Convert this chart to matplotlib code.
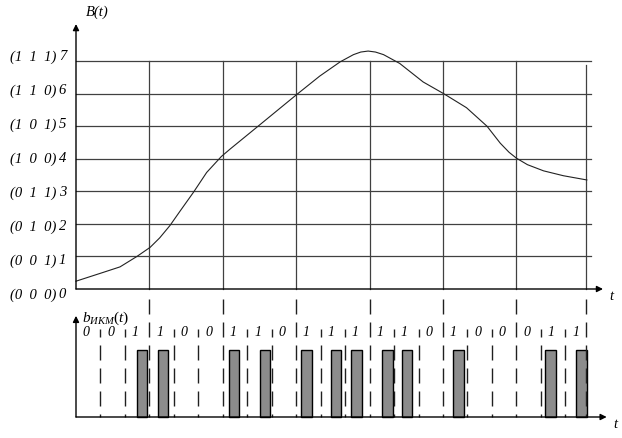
import matplotlib.pyplot as plt

# analog signal B(t) (t in sampling steps)
curve_t = [0.00, 0.37, 0.60, 0.83, 1.01, 1.14, 1.28, 1.42, 1.60, 1.78, 1.98, 2.10,
           2.48, 3.01, 3.32, 3.60, 3.78, 3.88, 3.98, 4.08, 4.19, 4.41, 4.73, 5.01,
           5.32, 5.60, 5.78, 5.90, 6.00, 6.15, 6.37, 6.64, 6.96]
curve_v = [0.24, 0.51, 0.68, 1.00, 1.28, 1.57, 1.95, 2.40, 2.97, 3.58, 4.07, 4.30,
           5.00, 5.98, 6.54, 6.98, 7.20, 7.28, 7.31, 7.28, 7.20, 6.93, 6.36, 6.00,
           5.57, 5.00, 4.48, 4.20, 4.02, 3.82, 3.63, 3.48, 3.35]

levels = [0, 1, 2, 3, 4, 5, 6, 7]
codes = ["(0  0  0)", "(0  0  1)", "(0  1  0)", "(0  1  1)",
         "(1  0  0)", "(1  0  1)", "(1  1  0)", "(1  1  1)"]

# PCM bit stream, 3 bits per sample
bits = "001100110111110100011"
# where each pulse starts inside its bit slot (fraction of slot)
pulse_offset = [0.49, 0.35, 0.25, 0.52, 0.20, 0.42, 0.24, 0.51, 0.32, 0.41, 0.17, 0.44]

T_END = 6.95
SLOT = 1 / 3
FONT = "Liberation Serif"


def main():
    plt.rcParams["mathtext.fontset"] = "custom"
    plt.rcParams["mathtext.it"] = FONT + ":italic"
    plt.rcParams["mathtext.rm"] = FONT

    fig = plt.figure(figsize=(6.22, 4.39), dpi=100)
    px = 73.4  # px per sample step
    ax1 = fig.add_axes([0, 139 / 439, 1, 300 / 439])
    ax1.set_xlim(-76 / px, 546 / px)
    ax1.set_ylim(-10 / 32.55, 290 / 32.55)
    ax1.axis("off")

    ax2 = fig.add_axes([0, 0, 1, 139 / 439])
    ax2.set_xlim(-76 / px, 546 / px)
    ax2.set_ylim(-21 / 67, 118 / 67)
    ax2.axis("off")

    grid_c = "#404040"
    # grid of the top plot
    for v in levels[1:]:
        ax1.plot([0, 7.016], [v, v], color=grid_c, lw=0.9)
    for k in range(1, 7):
        ax1.plot([k, k], [0, 7], color=grid_c, lw=0.9)
    ax1.plot([T_END, T_END], [0, 6.89], color=grid_c, lw=0.9)

    ax1.plot(curve_t, curve_v, color="#222222", lw=0.8)

    # axes with arrows
    arrow = dict(arrowstyle="-|>", color="black", lw=1, mutation_scale=9,
                 shrinkA=0, shrinkB=0)
    ax1.annotate("", xy=(0, 8.14), xytext=(0, 0), arrowprops=arrow)
    ax1.annotate("", xy=(7.18, 0), xytext=(0, 0), arrowprops=arrow)
    ax1.text(0.286, 8.54, "B(t)", family=FONT, style="italic", fontsize=10.5,
             ha="center", va="center")
    ax1.text(7.3, -0.2, "t", family=FONT, style="italic", fontsize=10.5,
             ha="center", va="center")

    for v, c in zip(levels, codes):
        y = (290 - (57 + (7 - v) * 34)) / 32.55
        ax1.text(-0.272, y, c, family=FONT, style="italic", fontsize=10.5,
                 ha="right", va="center")
        ax1.text(-0.184, y, str(v), family=FONT, style="italic", fontsize=10.5,
                 ha="center", va="center")

    # bottom plot: dashed bit slot lines
    on, off = 15 * 0.72, 8 * 0.72
    top_long = (418 - 300) / 67
    top_short = (418 - 330) / 67
    for k in range(1, 22):
        t = k * SLOT if k < 21 else T_END
        if k % 3 == 0:
            ax2.plot([t, t], [top_long, 0], color="#202020", lw=1,
                     linestyle=(0, (on, off)))
        else:
            ax2.plot([t, t], [top_short, 0], color="#202020", lw=1,
                     linestyle=(7 * 0.72, (on, off)))

    starts = []
    for k, b in enumerate(bits):
        ax2.text((k + 0.42) * SLOT, (418 - 333) / 67, b, family=FONT,
                 style="italic", fontsize=10, ha="center", va="center")
        if b == "1":
            starts.append((k + pulse_offset[len(starts)]) * SLOT)
    ax2.bar(starts, [1] * len(starts), width=10.5 / px, align="edge",
            color="#8c8c8c", edgecolor="black", lw=1)

    ax2.annotate("", xy=(0, 1.51), xytext=(0, 0), arrowprops=arrow)
    ax2.annotate("", xy=(7.23, 0), xytext=(0, 0), arrowprops=arrow)
    ax2.text(0.08, 1.49, r"$b_{ИКМ}(t)$", fontsize=11, ha="left", va="center")
    ax2.text(7.35, -0.1, "t", family=FONT, style="italic", fontsize=10.5,
             ha="center", va="center")

    fig.savefig("out.png", dpi=100)


if __name__ == "__main__":
    main()
